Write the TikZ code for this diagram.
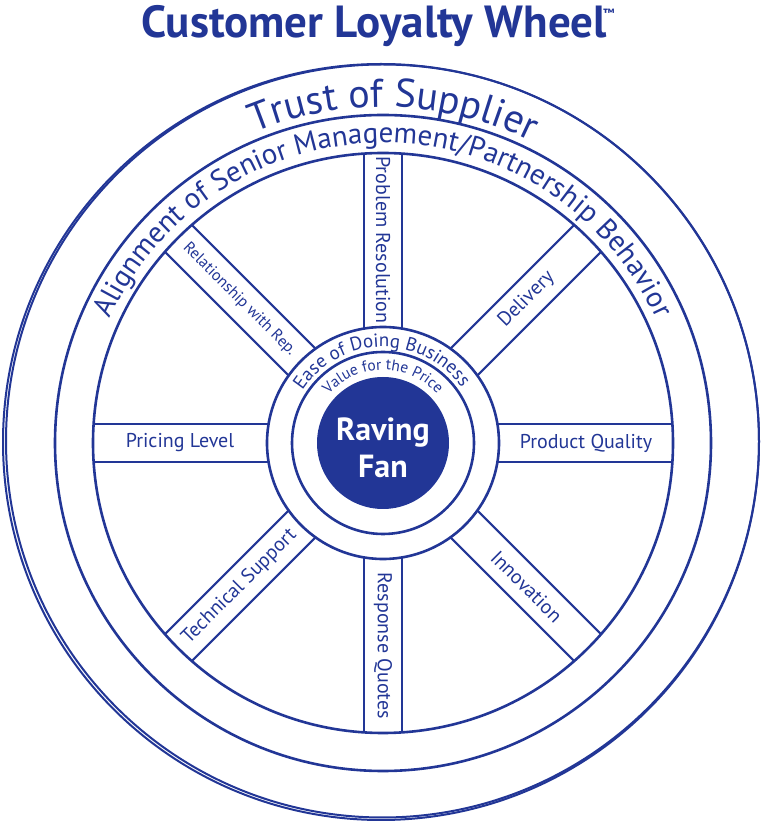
\documentclass[tikz,border=0pt]{standalone}
\usepackage{fontspec}
\setmainfont{PT Sans}
\usetikzlibrary{calc,decorations.text}
\definecolor{wheelblue}{RGB}{34,54,150}

\begin{document}
\begin{tikzpicture}[x=1pt,y=1pt,
  ring/.style={draw=wheelblue,line width=2.6pt},
  thinring/.style={draw=wheelblue,line width=2pt},
  spokeline/.style={draw=wheelblue,line width=2pt},
  spokelabel/.style={text=wheelblue,inner sep=0pt,font=\fontsize{20}{22}\selectfont},
  arctext/.style={decorate,decoration={text along path,text align=center,#1}},
]
\useasboundingbox (0,0) rectangle (762,825);
\coordinate (c) at (383,382);

% title
\node[text=wheelblue,font=\fontsize{45}{47}\selectfont\bfseries,anchor=base,inner sep=0pt]
  (title) at (374,787) {Customer Loyalty Wheel};
\node[text=wheelblue,font=\fontsize{12}{12}\selectfont\bfseries,anchor=base west,inner sep=0pt]
  (tm) at (603,807) {™};

% outer tyre (two slightly offset strokes) and rim
\draw[thinring] (381,383) circle (378);
\draw[thinring] (382.5,384) circle (376.5);
\draw[ring] (c) circle (328);
\draw[ring] (c) circle (290);

% hub
\draw[ring] (c) circle (116);
\draw[ring] (c) circle (91);
\fill[wheelblue] (c) circle (66);

% spokes
\foreach \a in {0,45,...,315}{
  \draw[spokeline] ($(c)+(\a:114.4)+(\a+90:19)$) -- ($(c)+(\a:289.4)+(\a+90:19)$);
  \draw[spokeline] ($(c)+(\a:114.4)+(\a-90:19)$) -- ($(c)+(\a:289.4)+(\a-90:19)$);
}

% spoke labels
\node[spokelabel,rotate=-90] (problem) at ($(c)+(90:203)$) {Problem Resolution};
\node[spokelabel,rotate=-90] (response) at ($(c)+(270:203)$) {Response Quotes};
\node[spokelabel] (pricing) at ($(c)+(180:203)$) {Pricing Level};
\node[spokelabel] (quality) at ($(c)+(0:203)$) {Product Quality};
\node[spokelabel,rotate=45] (delivery) at ($(c)+(45:203)$) {Delivery};
\node[spokelabel,rotate=45] (tech) at ($(c)+(225:203)$) {Technical Support};
\node[spokelabel,rotate=-45] (innov) at ($(c)+(315:203)$) {Innovation};
\node[spokelabel,rotate=-45,font=\fontsize{16}{18}\selectfont] (rep) at ($(c)+(135:203)$) {Relationship with Rep.};

% curved ring texts
\path[arctext={text={|\color{wheelblue}\fontsize{40}{40}\selectfont|Trust of Supplier}}]
  ($(c)+(158.2:336)$) arc[start angle=158.2,end angle=18.2,radius=336];
\path[arctext={text={|\color{wheelblue}\fontsize{29}{29}\selectfont|Alignment of Senior Management/Partnership Behavior}}]
  ($(c)+(179:300)$) arc[start angle=179,end angle=1,radius=300];
\path[arctext={text={|\color{wheelblue}\fontsize{19}{19}\selectfont|Ease of Doing Business}}]
  ($(c)+(176:96)$) arc[start angle=176,end angle=6,radius=96];
\path[arctext={text={|\color{wheelblue}\fontsize{15.5}{15.5}\selectfont|Value for the Price}}]
  ($(c)+(170:73)$) arc[start angle=170,end angle=10,radius=73];

% centre
\node[text=white,font=\fontsize{32}{37}\selectfont\bfseries,align=center,inner sep=0pt]
  (fan) at ($(c)+(0,-5)$) {Raving\\Fan};
\end{tikzpicture}
\end{document}
